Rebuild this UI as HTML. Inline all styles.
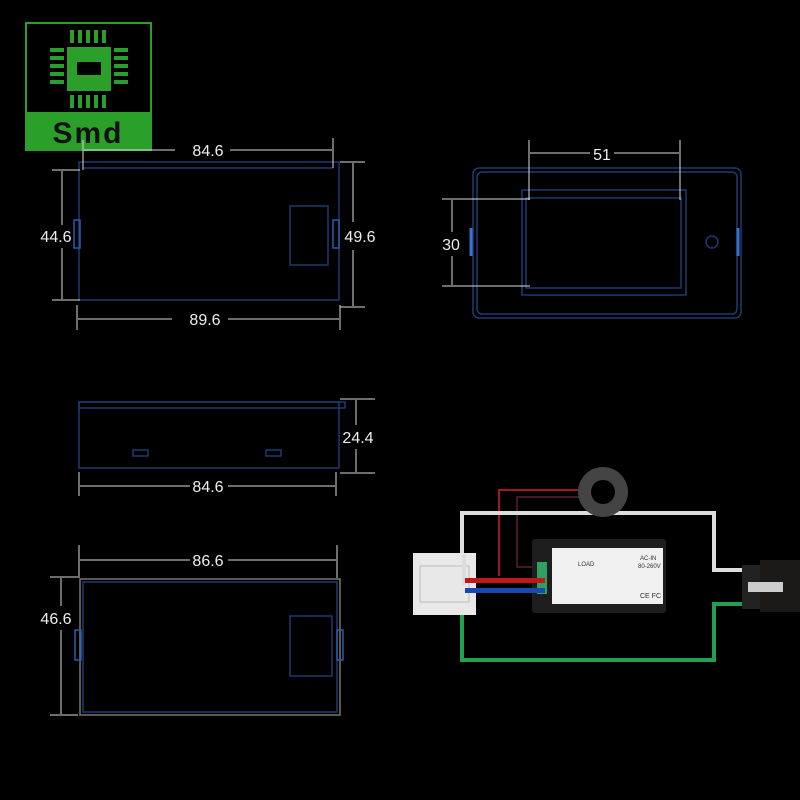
<!DOCTYPE html>
<html><head><meta charset="utf-8"><style>
html,body{margin:0;padding:0;background:#000;width:800px;height:800px;overflow:hidden}
svg{display:block}
text{font-family:"Liberation Sans",sans-serif;fill:#eee;font-size:16px}
</style></head><body>
<svg width="800" height="800" viewBox="0 0 800 800">
<rect width="800" height="800" fill="#000"/>
<!-- logo -->
<rect x="26" y="23" width="125" height="127" fill="none" stroke="#2aa02a" stroke-width="2"/>
<rect x="26" y="112" width="126" height="39" fill="#2aa02a"/>
<rect x="67" y="47" width="44" height="44" fill="#2aa02a"/>
<rect x="77" y="62" width="24" height="13" fill="#000"/>
<g fill="#2aa02a">
<rect x="70" y="30" width="4" height="13"/><rect x="78" y="30" width="4" height="13"/><rect x="86" y="30" width="4" height="13"/><rect x="94" y="30" width="4" height="13"/><rect x="102" y="30" width="4" height="13"/>
<rect x="70" y="95" width="4" height="13"/><rect x="78" y="95" width="4" height="13"/><rect x="86" y="95" width="4" height="13"/><rect x="94" y="95" width="4" height="13"/><rect x="102" y="95" width="4" height="13"/>
<rect x="50" y="48" width="14" height="4"/><rect x="50" y="56" width="14" height="4"/><rect x="50" y="64" width="14" height="4"/><rect x="50" y="72" width="14" height="4"/><rect x="50" y="80" width="14" height="4"/>
<rect x="114" y="48" width="14" height="4"/><rect x="114" y="56" width="14" height="4"/><rect x="114" y="64" width="14" height="4"/><rect x="114" y="72" width="14" height="4"/><rect x="114" y="80" width="14" height="4"/>
</g>
<text x="88" y="143" text-anchor="middle" style="font-size:30px;font-weight:bold;fill:#111;letter-spacing:2px">Smd</text>

<g stroke="#1d3a70" fill="none" stroke-width="1.5">
<!-- drawing 1 -->
<rect x="79" y="162" width="260" height="138"/>
<line x1="83" y1="168" x2="333" y2="168"/>
<rect x="290" y="206" width="38" height="59"/>
<rect x="74" y="220" width="6" height="28" stroke="#2a5ab0"/>
<rect x="333" y="220" width="6" height="28" stroke="#2a5ab0"/>
<!-- drawing 2 -->
<rect x="473" y="168" width="268" height="150" rx="6"/>
<rect x="477" y="172" width="260" height="142" rx="5"/>
<rect x="522" y="190" width="164" height="105"/>
<rect x="526" y="198" width="155" height="90"/>
<circle cx="712" cy="242" r="6"/>
<line x1="471" y1="228" x2="471" y2="256" stroke="#3a70d0" stroke-width="3"/>
<line x1="738" y1="228" x2="738" y2="256" stroke="#3a70d0" stroke-width="3"/>
<!-- drawing 3 -->
<rect x="79" y="402" width="266" height="6"/>
<rect x="79" y="402" width="260" height="66"/>
<rect x="133" y="450" width="15" height="6"/><rect x="266" y="450" width="15" height="6"/>
<!-- drawing 4 -->
<rect x="80" y="579" width="260" height="136" stroke="#7a756a"/>
<rect x="83" y="582" width="254" height="130"/>
<rect x="290" y="616" width="42" height="60"/>
<rect x="75" y="630" width="6" height="30" stroke="#2a5ab0"/>
<rect x="337" y="630" width="6" height="30" stroke="#2a5ab0"/>
</g>

<g stroke="#ddd" stroke-width="1" fill="none">
<!-- dims 1 -->
<line x1="83" y1="140" x2="83" y2="170"/><line x1="333" y1="138" x2="333" y2="168"/>
<line x1="84" y1="150" x2="175" y2="150"/><line x1="230" y1="150" x2="332" y2="150"/>
<line x1="77" y1="305" x2="77" y2="330"/><line x1="340" y1="305" x2="340" y2="330"/>
<line x1="78" y1="319" x2="172" y2="319"/><line x1="228" y1="319" x2="339" y2="319"/>
<line x1="52" y1="170" x2="80" y2="170"/><line x1="52" y1="300" x2="80" y2="300"/>
<line x1="62" y1="171" x2="62" y2="225"/><line x1="62" y1="248" x2="62" y2="299"/>
<line x1="340" y1="162" x2="365" y2="162"/><line x1="340" y1="307" x2="365" y2="307"/>
<line x1="353" y1="163" x2="353" y2="222"/><line x1="353" y1="250" x2="353" y2="306"/>
<!-- dims 2 -->
<line x1="529" y1="140" x2="529" y2="200"/><line x1="680" y1="140" x2="680" y2="200"/>
<line x1="530" y1="153" x2="590" y2="153"/><line x1="614" y1="153" x2="679" y2="153"/>
<line x1="442" y1="199" x2="530" y2="199"/><line x1="442" y1="286" x2="530" y2="286"/>
<line x1="452" y1="200" x2="452" y2="232"/><line x1="452" y1="256" x2="452" y2="285"/>
<!-- dims 3 -->
<line x1="340" y1="399" x2="375" y2="399"/><line x1="340" y1="473" x2="375" y2="473"/>
<line x1="356" y1="400" x2="356" y2="425"/><line x1="356" y1="449" x2="356" y2="472"/>
<line x1="79" y1="472" x2="79" y2="496"/><line x1="336" y1="472" x2="336" y2="496"/>
<line x1="80" y1="486" x2="190" y2="486"/><line x1="228" y1="486" x2="335" y2="486"/>
<!-- dims 4 -->
<line x1="79" y1="545" x2="79" y2="578"/><line x1="337" y1="545" x2="337" y2="578"/>
<line x1="80" y1="560" x2="190" y2="560"/><line x1="228" y1="560" x2="336" y2="560"/>
<line x1="50" y1="577" x2="78" y2="577"/><line x1="50" y1="715" x2="78" y2="715"/>
<line x1="61" y1="578" x2="61" y2="606"/><line x1="61" y1="630" x2="61" y2="714"/>
</g>
<text x="208" y="156" text-anchor="middle">84.6</text>
<text x="205" y="325" text-anchor="middle">89.6</text>
<text x="56" y="242" text-anchor="middle">44.6</text>
<text x="360" y="242" text-anchor="middle">49.6</text>
<text x="602" y="160" text-anchor="middle">51</text>
<text x="451" y="250" text-anchor="middle">30</text>
<text x="358" y="443" text-anchor="middle">24.4</text>
<text x="208" y="492" text-anchor="middle">84.6</text>
<text x="208" y="566" text-anchor="middle">86.6</text>
<text x="56" y="624" text-anchor="middle">46.6</text>

<!-- wiring -->
<g fill="none" stroke-linejoin="miter">
<polyline points="500,575 499,575 499,490 580,490" stroke="#a01820" stroke-width="2"/>
<polyline points="545,567 517,567 517,497 580,497" stroke="#5a2030" stroke-width="1.5"/>
<polyline points="462,560 462,513 714,513 714,570 742,570" stroke="#ddd" stroke-width="4"/>
<polyline points="462,592 462,660 714,660 714,604 742,604" stroke="#20a050" stroke-width="4"/>
</g>
<circle cx="603" cy="492" r="25" fill="#444"/>
<circle cx="603" cy="492" r="12" fill="#000"/>
<rect x="413" y="553" width="63" height="62" fill="#e8e8e8"/>
<rect x="420" y="566" width="49" height="36" fill="none" stroke="#bbb"/>
<rect x="462" y="555" width="4" height="30" fill="#ddd"/>
<rect x="532" y="539" width="134" height="74" rx="3" fill="#1e1e1e"/>
<rect x="552" y="548" width="111" height="56" fill="#f0f0f0"/>
<text x="578" y="566" style="font-size:6px;fill:#333">LOAD</text>
<text x="640" y="560" style="font-size:6px;fill:#333">AC-IN</text>
<text x="638" y="568" style="font-size:6px;fill:#333">80-260V</text>
<text x="640" y="598" style="font-size:7px;fill:#333">CE FC</text>
<rect x="537" y="562" width="10" height="32" fill="#30a060"/>
<rect x="465" y="578" width="80" height="5" fill="#c01818"/>
<rect x="465" y="588" width="80" height="5" fill="#1848b0"/>
<rect x="742" y="565" width="20" height="44" fill="#222"/>
<rect x="760" y="560" width="40" height="52" fill="#1c1a18"/>
<rect x="748" y="582" width="35" height="10" fill="#ccc"/>
</svg>
</body></html>
